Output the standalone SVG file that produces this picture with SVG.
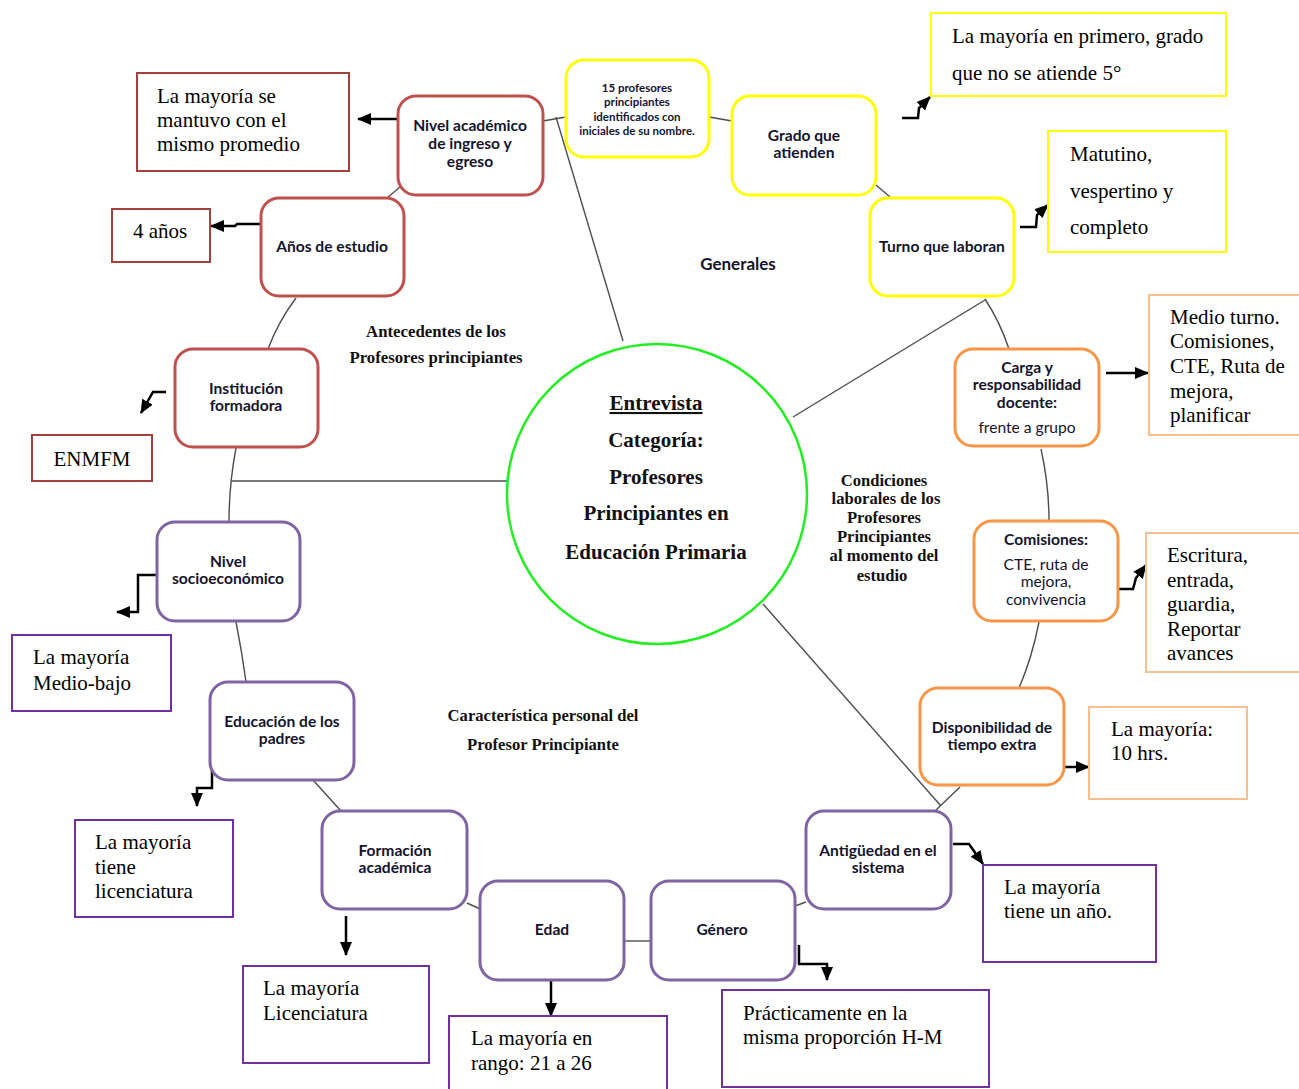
<svg xmlns="http://www.w3.org/2000/svg" width="1299" height="1089" viewBox="0 0 1299 1089">
<defs>
<marker id="ah" markerUnits="userSpaceOnUse" markerWidth="16" markerHeight="14" refX="13" refY="6" orient="auto" viewBox="0 0 16 14">
<path d="M0,0 L14,6 L0,12 z" fill="#000"/>
</marker>
</defs>
<style>
.bg{fill:#fff}
.node{fill:#fff;stroke-width:3}
.red{stroke:#c0504d}
.yel{stroke:#ffff00}
.ora{stroke:#f79646}
.pur{stroke:#8064a2}
.box{fill:#fff;stroke-width:2}
.rbox{stroke:#a5403d}
.ybox{stroke:#ffff00}
.obox{stroke:#fac090}
.pbox{stroke:#7030a0}
.nt{font-family:Lato,"Open Sans","Liberation Sans",sans-serif;font-weight:bold;font-size:15.6px;fill:#14142e;text-anchor:middle}
.nts{font-family:Lato,"Open Sans","Liberation Sans",sans-serif;font-weight:bold;font-size:11.5px;fill:#14142e;text-anchor:middle}
.ntr{font-family:Lato,"Open Sans","Liberation Sans",sans-serif;font-weight:normal;font-size:15.6px;fill:#14142e;text-anchor:middle}
.bt{font-family:"Liberation Serif","Times New Roman",serif;font-size:21px;fill:#000}
.lb{font-family:"Liberation Serif","Times New Roman",serif;font-weight:bold;font-size:16.8px;fill:#111;text-anchor:middle}
.lbs{font-family:"Liberation Serif","Times New Roman",serif;font-weight:bold;font-size:16.6px;fill:#111;text-anchor:middle}
.ct{font-family:"Liberation Serif","Times New Roman",serif;font-weight:bold;font-size:21px;fill:#111;text-anchor:middle}
.gl{font-family:Lato,"Open Sans","Liberation Sans",sans-serif;font-weight:bold;font-size:17px;fill:#14142e;text-anchor:middle}
.cn{fill:none;stroke:#4d4d4d;stroke-width:1.4}
.ar{fill:none;stroke:#000;stroke-width:2.5;marker-end:url(#ah)}
</style>
<rect class="bg" x="0" y="0" width="1299" height="1089"/>

<g id="connectors">
<line class="cn" x1="543" y1="121" x2="566" y2="117"/>
<line class="cn" x1="556" y1="117" x2="623" y2="341"/>
<line class="cn" x1="709" y1="117" x2="732" y2="121"/>
<line class="cn" x1="876" y1="185" x2="890" y2="197"/>
<path class="cn" d="M985,299 Q1000,322 1009,349"/>
<line class="cn" x1="985" y1="300" x2="793" y2="417"/>
<path class="cn" d="M1041,449 Q1049,485 1049,521"/>
<path class="cn" d="M1039,622 Q1032,658 1019,688"/>
<line class="cn" x1="960" y1="787" x2="936" y2="810"/>
<line class="cn" x1="763" y1="604" x2="941" y2="806"/>
<line class="cn" x1="795" y1="906" x2="806" y2="902"/>
<line class="cn" x1="624" y1="941" x2="651" y2="941"/>
<line class="cn" x1="467" y1="903" x2="480" y2="909"/>
<line class="cn" x1="313" y1="780" x2="341" y2="811"/>
<path class="cn" d="M236,622 Q242,652 246,682"/>
<path class="cn" d="M236,448 Q229,485 229,522"/>
<line class="cn" x1="232" y1="481" x2="507" y2="481"/>
<path class="cn" d="M296,298 Q278,322 268,349"/>
<line class="cn" x1="387" y1="198" x2="400" y2="187"/>
</g>

<g id="arrows">
<path class="ar" d="M397,119 L358,119"/>
<path class="ar" d="M260,224 L237,224 L235,226 L211,226"/>
<path class="ar" d="M166,392 L153,392 L141,413"/>
<path class="ar" d="M158,575 L138,575 L138,612 L117,612"/>
<path class="ar" d="M212,768 L212,788 L197,788 L197,806"/>
<path class="ar" d="M346,916 L346,955"/>
<path class="ar" d="M551,980 L551,1016"/>
<path class="ar" d="M799,945 L799,964 L827,964 L827,980"/>
<path class="ar" d="M953,844 L969,844 L983,864"/>
<path class="ar" d="M1062,767 L1089,767"/>
<path class="ar" d="M1118,589 L1133,589 L1136,578 L1146,565"/>
<path class="ar" d="M1106,373 L1148,373"/>
<path class="ar" d="M1020,227 L1036,227 L1037,215 L1048,205"/>
<path class="ar" d="M902,118 L918,118 L919,108 L930,97"/>
</g>

<g id="center">
<circle cx="657" cy="494" r="150" fill="#fff" stroke="#22ee22" stroke-width="2.5"/>
<text class="ct" x="656" y="410" text-decoration="underline">Entrevista</text>
<text class="ct" x="656" y="447">Categoría:</text>
<text class="ct" x="656" y="484">Profesores</text>
<text class="ct" x="656" y="520">Principiantes en</text>
<text class="ct" x="656" y="559">Educación Primaria</text>
</g>

<g id="labels">
<text class="gl" x="738" y="270">Generales</text>
<text class="lb" x="436" y="337">Antecedentes de los</text>
<text class="lb" x="436" y="363">Profesores principiantes</text>
<text class="lbs" x="884" y="486">Condiciones</text>
<text class="lbs" x="886" y="504">laborales de los</text>
<text class="lbs" x="884" y="523">Profesores</text>
<text class="lbs" x="884" y="542">Principiantes</text>
<text class="lbs" x="884" y="561">al momento del</text>
<text class="lbs" x="882" y="581">estudio</text>
<text class="lbs" x="543" y="721">Característica personal del</text>
<text class="lbs" x="543" y="750">Profesor Principiante</text>
</g>

<g id="n-nivel-academico">
<rect class="node red" x="398" y="96" width="145" height="99" rx="18"/>
<text class="nt" x="470" y="131">Nivel académico</text>
<text class="nt" x="470" y="149">de ingreso y</text>
<text class="nt" x="470" y="167">egreso</text>
</g>
<g id="n-anos">
<rect class="node red" x="261" y="198" width="143" height="98" rx="18"/>
<text class="nt" x="332" y="252">Años de estudio</text>
</g>
<g id="n-institucion">
<rect class="node red" x="175" y="349" width="143" height="98" rx="18"/>
<text class="nt" x="246" y="394">Institución</text>
<text class="nt" x="246" y="411">formadora</text>
</g>
<g id="n-15">
<rect class="node yel" x="566" y="60" width="143" height="97" rx="18"/>
<text class="nts" x="637" y="92">15 profesores</text>
<text class="nts" x="637" y="106">principiantes</text>
<text class="nts" x="637" y="121">identificados  con</text>
<text class="nts" x="637" y="135">iniciales de su nombre.</text>
</g>
<g id="n-grado">
<rect class="node yel" x="732" y="96" width="144" height="99" rx="18"/>
<text class="nt" x="804" y="141">Grado que</text>
<text class="nt" x="804" y="158">atienden</text>
</g>
<g id="n-turno">
<rect class="node yel" x="870" y="198" width="144" height="98" rx="18"/>
<text class="nt" x="942" y="252">Turno que laboran</text>
</g>
<g id="n-carga">
<rect class="node ora" x="955" y="349" width="144" height="97" rx="18"/>
<text class="nt" x="1027" y="373">Carga  y</text>
<text class="nt" x="1027" y="390">responsabilidad</text>
<text class="nt" x="1027" y="408">docente:</text>
<text class="ntr" x="1027" y="433">frente a grupo</text>
</g>
<g id="n-comisiones">
<rect class="node ora" x="974" y="521" width="144" height="100" rx="18"/>
<text class="nt" x="1046" y="545">Comisiones:</text>
<text class="ntr" x="1046" y="570">CTE, ruta de</text>
<text class="ntr" x="1046" y="587">mejora,</text>
<text class="ntr" x="1046" y="605">convivencia</text>
</g>
<g id="n-disponibilidad">
<rect class="node ora" x="920" y="688" width="144" height="97" rx="18"/>
<text class="nt" x="992" y="733">Disponibilidad de</text>
<text class="nt" x="992" y="750">tiempo extra</text>
</g>
<g id="n-nivel-socio">
<rect class="node pur" x="157" y="522" width="143" height="99" rx="18"/>
<text class="nt" x="228" y="567">Nivel</text>
<text class="nt" x="228" y="584">socioeconómico</text>
</g>
<g id="n-educacion">
<rect class="node pur" x="210" y="682" width="144" height="98" rx="18"/>
<text class="nt" x="282" y="727">Educación de los</text>
<text class="nt" x="282" y="744">padres</text>
</g>
<g id="n-formacion">
<rect class="node pur" x="322" y="811" width="145" height="98" rx="18"/>
<text class="nt" x="395" y="856">Formación</text>
<text class="nt" x="395" y="873">académica</text>
</g>
<g id="n-edad">
<rect class="node pur" x="480" y="881" width="144" height="99" rx="18"/>
<text class="nt" x="552" y="935">Edad</text>
</g>
<g id="n-genero">
<rect class="node pur" x="651" y="881" width="144" height="99" rx="18"/>
<text class="nt" x="722" y="935">Género</text>
</g>
<g id="n-antiguedad">
<rect class="node pur" x="806" y="811" width="145" height="98" rx="18"/>
<text class="nt" x="878" y="856">Antigüedad en el</text>
<text class="nt" x="878" y="873">sistema</text>
</g>

<g id="r-promedio">
<rect class="box rbox" x="137" y="73" width="212" height="98"/>
<text class="bt" x="157" y="103">La mayoría se</text>
<text class="bt" x="157" y="127">mantuvo con el</text>
<text class="bt" x="157" y="151">mismo promedio</text>
</g>
<g id="r-4anos">
<rect class="box rbox" x="112" y="209" width="98" height="53"/>
<text class="bt" x="133" y="238">4 años</text>
</g>
<g id="r-enmfm">
<rect class="box rbox" x="32" y="435" width="120" height="46"/>
<text class="bt" x="92" y="466" text-anchor="middle">ENMFM</text>
</g>
<g id="r-primero">
<rect class="box ybox" x="931" y="13" width="295" height="83"/>
<text class="bt" x="952" y="43">La mayoría en primero, grado</text>
<text class="bt" x="952" y="80">que no se atiende 5°</text>
</g>
<g id="r-matutino">
<rect class="box ybox" x="1048" y="131" width="178" height="121"/>
<text class="bt" x="1070" y="161">Matutino,</text>
<text class="bt" x="1070" y="198">vespertino y</text>
<text class="bt" x="1070" y="234">completo</text>
</g>
<g id="r-medio-turno">
<rect class="box obox" x="1149" y="295" width="152" height="140"/>
<text class="bt" x="1170" y="324">Medio turno.</text>
<text class="bt" x="1170" y="348">Comisiones,</text>
<text class="bt" x="1170" y="373">CTE, Ruta de</text>
<text class="bt" x="1170" y="398">mejora,</text>
<text class="bt" x="1170" y="422">planificar</text>
</g>
<g id="r-escritura">
<rect class="box obox" x="1146" y="533" width="155" height="139"/>
<text class="bt" x="1167" y="562">Escritura,</text>
<text class="bt" x="1167" y="587">entrada,</text>
<text class="bt" x="1167" y="611">guardia,</text>
<text class="bt" x="1167" y="636">Reportar</text>
<text class="bt" x="1167" y="660">avances</text>
</g>
<g id="r-10hrs">
<rect class="box obox" x="1089" y="707" width="158" height="92"/>
<text class="bt" x="1111" y="736">La mayoría:</text>
<text class="bt" x="1111" y="760">10 hrs.</text>
</g>
<g id="r-un-ano">
<rect class="box pbox" x="983" y="865" width="173" height="97"/>
<text class="bt" x="1004" y="894">La mayoría</text>
<text class="bt" x="1004" y="918">tiene un año.</text>
</g>
<g id="r-proporcion">
<rect class="box pbox" x="722" y="990" width="267" height="97"/>
<text class="bt" x="743" y="1020">Prácticamente en la</text>
<text class="bt" x="743" y="1044">misma proporción H-M</text>
</g>
<g id="r-rango">
<rect class="box pbox" x="449" y="1016" width="218" height="80"/>
<text class="bt" x="471" y="1045">La mayoría en</text>
<text class="bt" x="471" y="1070">rango: 21 a 26</text>
</g>
<g id="r-licenciatura">
<rect class="box pbox" x="243" y="966" width="186" height="97"/>
<text class="bt" x="263" y="995">La mayoría</text>
<text class="bt" x="263" y="1020">Licenciatura</text>
</g>
<g id="r-tiene-lic">
<rect class="box pbox" x="75" y="820" width="158" height="97"/>
<text class="bt" x="95" y="849">La mayoría</text>
<text class="bt" x="95" y="874">tiene</text>
<text class="bt" x="95" y="898">licenciatura</text>
</g>
<g id="r-medio-bajo">
<rect class="box pbox" x="12" y="635" width="159" height="76"/>
<text class="bt" x="33" y="664">La mayoría</text>
<text class="bt" x="33" y="690">Medio-bajo</text>
</g>
</svg>
